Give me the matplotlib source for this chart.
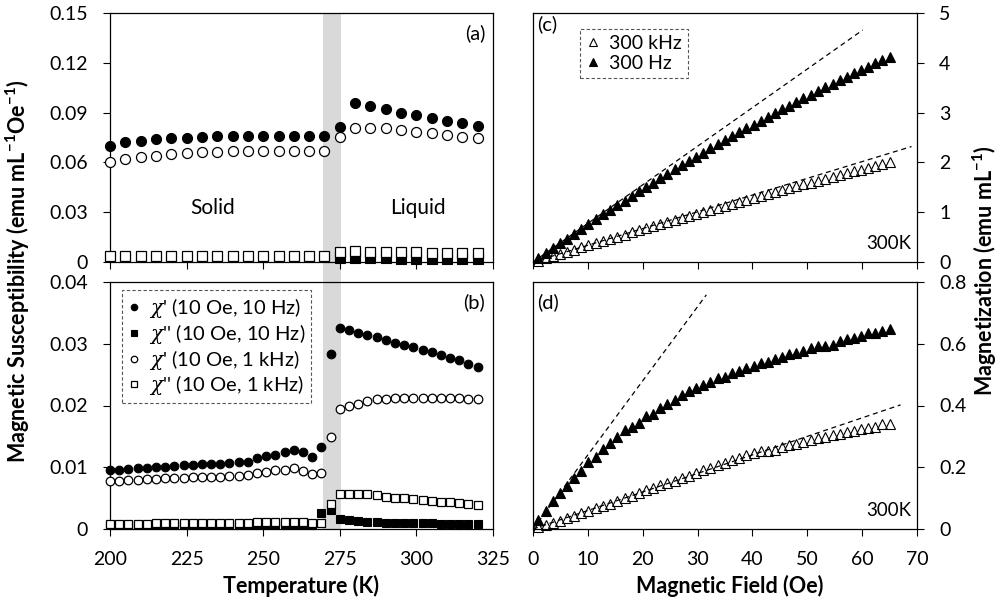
import numpy as np
import matplotlib
matplotlib.use("Agg")
import matplotlib.pyplot as plt

plt.rcParams['font.family'] = ['Lato', 'DejaVu Sans']
plt.rcParams['mathtext.fontset'] = 'custom'
plt.rcParams['mathtext.rm'] = 'Lato'
plt.rcParams['mathtext.bf'] = 'Lato:bold'
plt.rcParams['mathtext.it'] = 'DejaVu Serif:italic'

# ---- panel (a): temperature sweep, 5 K steps
temp_a = [200, 205, 210, 215, 220, 225, 230, 235, 240, 245, 250, 255, 260, 265, 270,
          275, 280, 285, 290, 295, 300, 305, 310, 315, 320]
chi1_10hz_a = [0.070, 0.072, 0.073, 0.074, 0.0745, 0.075, 0.0755, 0.0758, 0.076, 0.076,
               0.076, 0.076, 0.076, 0.0758, 0.0758, 0.0815, 0.0955, 0.094, 0.092, 0.090,
               0.0885, 0.087, 0.085, 0.0835, 0.082]
chi2_10hz_a = [np.nan] * 15 + [0.0022, 0.0025, 0.0024, 0.0022, 0.0021, 0.0020, 0.0019,
                               0.0018, 0.0017, 0.0016]
chi1_1khz_a = [0.060, 0.062, 0.063, 0.064, 0.065, 0.0655, 0.066, 0.0665, 0.067, 0.067,
               0.067, 0.067, 0.067, 0.067, 0.067, 0.0755, 0.081, 0.081, 0.0805, 0.0795,
               0.0785, 0.0775, 0.0765, 0.0755, 0.0745]
chi2_1khz_a = [0.0037] * 15 + [0.0058, 0.0064, 0.0063, 0.0062, 0.0060, 0.0058, 0.0057,
                               0.0056, 0.0054, 0.0052]

# ---- panel (b): temperature sweep, 3 K steps
temp_b = [200, 203, 206, 209, 212, 215, 218, 221, 224, 227, 230, 233, 236, 239, 242, 245,
          248, 251, 254, 257, 260, 263, 266, 269, 272, 275, 278, 281, 284, 287, 290, 293,
          296, 299, 302, 305, 308, 311, 314, 317, 320]
chi1_10hz_b = [0.0095, 0.0096, 0.0097, 0.0098, 0.0099, 0.0100, 0.0101, 0.0102, 0.0103,
               0.0104, 0.0105, 0.0106, 0.0106, 0.0107, 0.0108, 0.0109, 0.0115, 0.0118,
               0.0120, 0.0124, 0.0128, 0.0125, 0.0116, 0.0133, 0.0283, 0.0326, 0.0322,
               0.0318, 0.0314, 0.0311, 0.0306, 0.0302, 0.0298, 0.0294, 0.0290, 0.0286,
               0.0281, 0.0277, 0.0274, 0.0268, 0.0262]
chi2_10hz_b = [0.0006] * 23 + [0.0026, 0.0031, 0.0017, 0.0014, 0.0013, 0.0012, 0.0011,
                               0.0010, 0.0010, 0.0009, 0.0009, 0.0009, 0.0009, 0.0008,
                               0.0008, 0.0008, 0.0008, 0.0008]
chi1_1khz_b = [0.0077, 0.0078, 0.0079, 0.0080, 0.0081, 0.0081, 0.0082, 0.0082, 0.0083,
               0.0084, 0.0084, 0.0085, 0.0085, 0.0086, 0.0086, 0.0087, 0.0090, 0.0093,
               0.0095, 0.0096, 0.0099, 0.0094, 0.0089, 0.0091, 0.0149, 0.0194, 0.0200,
               0.0203, 0.0207, 0.0210, 0.0211, 0.0212, 0.0212, 0.0212, 0.0212, 0.0212,
               0.0212, 0.0212, 0.0212, 0.0211, 0.0211]
chi2_1khz_b = [0.0008, 0.0008, 0.0008, 0.0008, 0.0008, 0.0009, 0.0009, 0.0009, 0.0009,
               0.0009, 0.0009, 0.0009, 0.0009, 0.0009, 0.0009, 0.0009, 0.0011, 0.0011,
               0.0011, 0.0012, 0.0012, 0.0012, 0.0009, 0.0010, 0.0040, 0.0056, 0.0056,
               0.0056, 0.0056, 0.0055, 0.0052, 0.0051, 0.0050, 0.0048, 0.0047, 0.0046,
               0.0044, 0.0043, 0.0042, 0.0041, 0.0039]

melt_band = [269.5, 275.3]

# ---- panels (c), (d): field sweep at 300 K
field = [1.0, 2.3, 3.6, 4.9, 6.2, 7.5, 8.8, 10.1, 11.4, 12.8, 14.1, 15.4, 16.7, 18.0,
         19.3, 20.6, 21.9, 23.2, 24.5, 25.8, 27.1, 28.4, 29.7, 31.0, 32.3, 33.7, 35.0,
         36.3, 37.6, 38.9, 40.2, 41.5, 42.8, 44.1, 45.4, 46.7, 48.0, 49.3, 50.6, 51.9,
         53.2, 54.6, 55.9, 57.2, 58.5, 59.8, 61.1, 62.4, 63.7, 65.0]
m_300hz_c = [0.08, 0.18, 0.28, 0.38, 0.47, 0.57, 0.67, 0.76, 0.86, 0.96,
             1.05, 1.14, 1.23, 1.32, 1.42, 1.50, 1.59, 1.68, 1.77, 1.86,
             1.94, 2.03, 2.11, 2.19, 2.28, 2.36, 2.45, 2.53, 2.61, 2.69,
             2.76, 2.84, 2.92, 2.99, 3.07, 3.14, 3.22, 3.29, 3.36, 3.44,
             3.51, 3.58, 3.65, 3.72, 3.79, 3.86, 3.92, 3.99, 4.05, 4.12]
m_300khz_c = [0.03, 0.08, 0.12, 0.17, 0.21, 0.25, 0.30, 0.34, 0.38, 0.43,
              0.47, 0.51, 0.55, 0.60, 0.64, 0.68, 0.72, 0.76, 0.80, 0.84,
              0.89, 0.93, 0.97, 1.01, 1.05, 1.09, 1.13, 1.17, 1.21, 1.25,
              1.29, 1.33, 1.36, 1.40, 1.44, 1.48, 1.52, 1.56, 1.59, 1.63,
              1.67, 1.71, 1.74, 1.78, 1.82, 1.85, 1.89, 1.93, 1.96, 2.00]
m_300hz_d = [0.029, 0.059, 0.092, 0.116, 0.139, 0.164, 0.188, 0.218, 0.234, 0.259,
             0.278, 0.299, 0.321, 0.331, 0.342, 0.366, 0.372, 0.391, 0.405, 0.418,
             0.434, 0.447, 0.458, 0.466, 0.475, 0.488, 0.493, 0.504, 0.512, 0.520,
             0.528, 0.537, 0.542, 0.550, 0.558, 0.567, 0.569, 0.577, 0.585, 0.593,
             0.593, 0.596, 0.609, 0.614, 0.618, 0.625, 0.636, 0.636, 0.642, 0.647]
m_300khz_d = [0.006, 0.013, 0.020, 0.027, 0.035, 0.043, 0.051, 0.059, 0.067, 0.074,
              0.081, 0.091, 0.100, 0.107, 0.116, 0.125, 0.132, 0.141, 0.149, 0.157,
              0.165, 0.173, 0.181, 0.192, 0.198, 0.206, 0.214, 0.225, 0.230, 0.241,
              0.246, 0.252, 0.252, 0.257, 0.265, 0.272, 0.276, 0.282, 0.287, 0.294,
              0.298, 0.303, 0.309, 0.314, 0.317, 0.323, 0.328, 0.330, 0.339, 0.341]

# linear low-field fits (slope, last field value) : [300 Hz, 300 kHz]
fit_slope_c = [0.0775, 0.0336]
fit_end_c = [60.1, 69.0]
fit_slope_d = [0.0240, 0.0060]
fit_end_d = [31.6, 67.0]

ticks_a = [0, 0.03, 0.06, 0.09, 0.12, 0.15]
ticks_b = [0, 0.01, 0.02, 0.03, 0.04]
ticks_c = [0, 1, 2, 3, 4, 5]
ticks_d = [0, 0.2, 0.4, 0.6, 0.8]
ticks_t = [200, 225, 250, 275, 300, 325]
ticks_h = [0, 10, 20, 30, 40, 50, 60, 70]

fig = plt.figure(figsize=(10, 6.06), dpi=100)
W, H = 1000, 606


def box(x0, x1, y0, y1):
    return [x0 / W, 1 - y1 / H, (x1 - x0) / W, (y1 - y0) / H]


ax_a = fig.add_axes(box(110, 493, 13, 262))
ax_b = fig.add_axes(box(110, 493, 282, 529))
ax_c = fig.add_axes(box(533, 917, 13, 262))
ax_d = fig.add_axes(box(533, 917, 282, 529))

FS = 14


def fmt(v):
    return "0" if v == 0 else ("%g" % v)


for ax in (ax_a, ax_b, ax_c, ax_d):
    for s in ax.spines.values():
        s.set_linewidth(0.9)
    ax.tick_params(direction='out', length=5, width=0.8, pad=11, labelsize=FS)

# temperature panels
for ax, T, c1f, c2f, c1o, c2o, ms, yt in (
        (ax_a, temp_a, chi1_10hz_a, chi2_10hz_a, chi1_1khz_a, chi2_1khz_a, 7.2, ticks_a),
        (ax_b, temp_b, chi1_10hz_b, chi2_10hz_b, chi1_1khz_b, chi2_1khz_b, 6.2, ticks_b)):
    ax.plot(T, c1f, 'o', color='k', ms=ms, mew=0.8, clip_on=False, zorder=3,
            label=r"$\chi$' (10 Oe, 10 Hz)")
    ax.plot(T, c2f, 's', color='k', ms=ms * 0.95, mew=0.8, clip_on=False, zorder=3,
            label=r"$\chi$'' (10 Oe, 10 Hz)")
    ax.plot(T, c1o, 'o', mfc='white', mec='k', ms=ms, mew=0.9, clip_on=False, zorder=4,
            label=r"$\chi$' (10 Oe, 1 kHz)")
    ax.plot(T, c2o, 's', mfc='white', mec='k', ms=ms * 0.95, mew=0.9, clip_on=False,
            zorder=4, label=r"$\chi$'' (10 Oe, 1 kHz)")
    ax.set_xlim(200, 325)
    ax.set_ylim(yt[0], yt[-1])
    ax.set_xticks(ticks_t)
    ax.set_yticks(yt)
    ax.set_yticklabels([fmt(v) for v in yt])

ax_a.axvspan(melt_band[0], melt_band[1], ymin=-0.085, ymax=1, color='#d9d9d9',
             lw=0, zorder=0, clip_on=False)
ax_b.axvspan(melt_band[0], melt_band[1], color='#d9d9d9', lw=0, zorder=0)
ax_a.tick_params(labelbottom=False)
ax_b.set_xticklabels([str(v) for v in ticks_t])

ax_a.text(233.5, 0.0325, "Solid", fontsize=15, ha='center', va='center')
ax_a.text(300.5, 0.0325, "Liquid", fontsize=15, ha='center', va='center')
ax_a.text(0.98, 0.955, "(a)", transform=ax_a.transAxes, fontsize=FS + 0.5,
          ha='right', va='top')
ax_b.text(0.98, 0.955, "(b)", transform=ax_b.transAxes, fontsize=FS + 0.5,
          ha='right', va='top')

leg = ax_b.legend(loc='upper left', bbox_to_anchor=(0.031, 0.966), borderaxespad=0,
                  fontsize=14.5, handlelength=0.6, handletextpad=0.45,
                  labelspacing=0.08, borderpad=0.3, fancybox=False, framealpha=1,
                  markerscale=0.75)
leg.get_frame().set_linestyle((0, (3, 2)))
leg.get_frame().set_edgecolor('#555555')
leg.get_frame().set_linewidth(0.8)

# field panels
for ax, m_hz, m_khz, sl, en, yt in (
        (ax_c, m_300hz_c, m_300khz_c, fit_slope_c, fit_end_c, ticks_c),
        (ax_d, m_300hz_d, m_300khz_d, fit_slope_d, fit_end_d, ticks_d)):
    for k in range(2):
        ax.plot([0, en[k]], [0, sl[k] * en[k]], color='k', lw=0.9,
                ls=(0, (4, 3)), zorder=2)
    ax.plot(field, m_khz, '^', mfc='none', mec='k', ms=7.5, mew=0.8, clip_on=False,
            zorder=3, label="300 kHz")
    ax.plot(field, m_hz, '^', color='k', ms=7.5, mew=0.8, clip_on=False, zorder=3,
            label="300 Hz")
    ax.set_xlim(0, 70)
    ax.set_ylim(yt[0], yt[-1])
    ax.set_xticks(ticks_h)
    ax.set_yticks(yt)
    ax.set_yticklabels([fmt(v) for v in yt])
    ax.yaxis.tick_right()
    ax.text(0.985, 0.04, "300K", transform=ax.transAxes, fontsize=FS - 0.5,
            ha='right', va='bottom')

ax_c.tick_params(labelbottom=False)
ax_d.set_xticklabels([str(v) for v in ticks_h])
ax_c.text(0.012, 0.99, "(c)", transform=ax_c.transAxes, fontsize=FS + 0.5,
          ha='left', va='top')
ax_d.text(0.012, 0.955, "(d)", transform=ax_d.transAxes, fontsize=FS + 0.5,
          ha='left', va='top')

leg_c = ax_c.legend(loc='upper left', bbox_to_anchor=(0.122, 0.936), borderaxespad=0,
                    fontsize=14, handlelength=0.8, handletextpad=0.4,
                    labelspacing=0.15, borderpad=0.3, fancybox=False, framealpha=1,
                    markerscale=0.7)
leg_c.get_frame().set_linestyle((0, (3, 2)))
leg_c.get_frame().set_edgecolor('#555555')
leg_c.get_frame().set_linewidth(0.8)

fig.text(0.018, 1 - 271 / H,
         r"Magnetic Susceptibility (emu mL$^{\mathbf{-1}}$Oe$^{\mathbf{-1}}$)",
         rotation=90, ha='center', va='center', fontsize=15.5, fontweight='bold')
fig.text(0.985, 1 - 271 / H, r"Magnetization (emu mL$^{\mathbf{-1}}$)",
         rotation=90, ha='center', va='center', fontsize=15.5, fontweight='bold')
fig.text(301 / W, 1 - 586 / H, "Temperature (K)", ha='center', va='center',
         fontsize=15.5, fontweight='bold')
fig.text(730 / W, 1 - 586 / H, "Magnetic Field (Oe)", ha='center', va='center',
         fontsize=15.5, fontweight='bold')

fig.savefig("out.png", dpi=100)
